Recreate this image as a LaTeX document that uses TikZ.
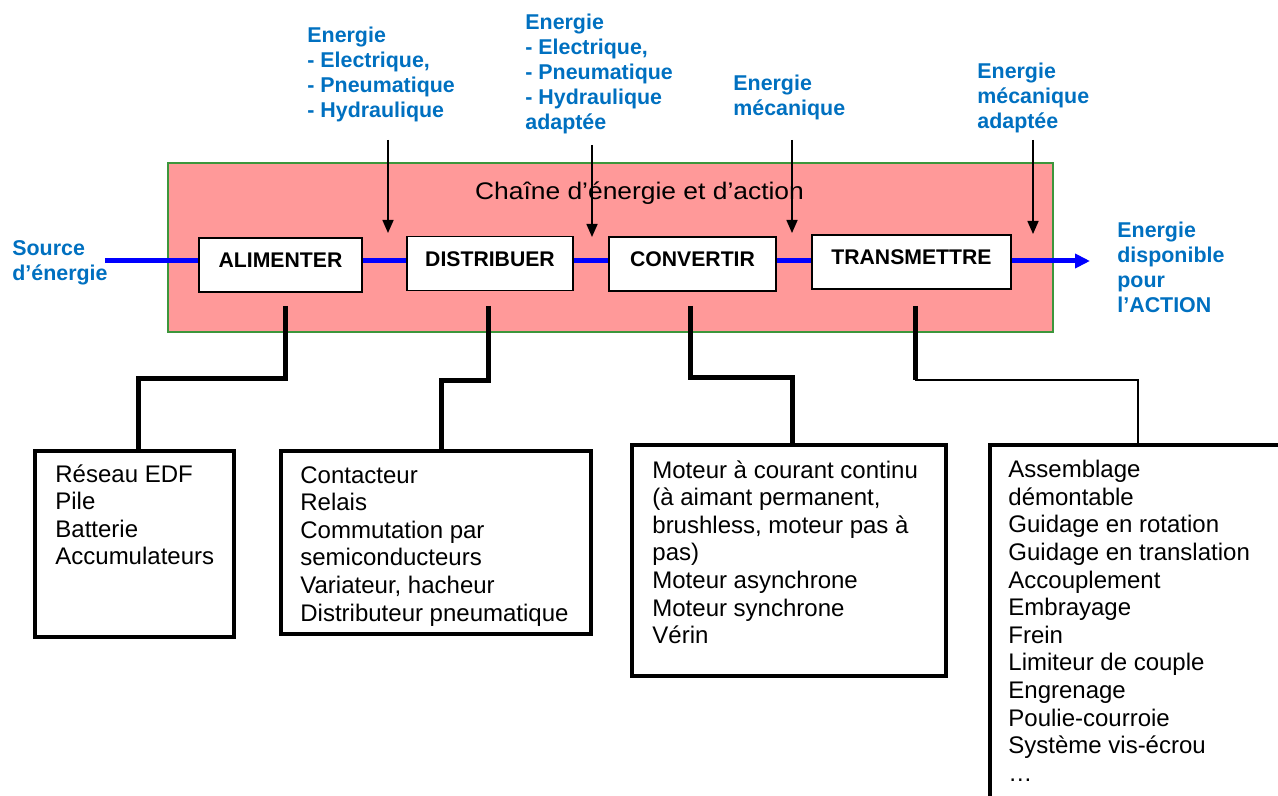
\documentclass[tikz,border=0pt]{standalone}
\usepackage{fontspec}
\setmainfont{Liberation Sans}
\newfontfamily\titlefont{Liberation Sans}[FakeStretch=1.1]
\usetikzlibrary{arrows.meta}
\definecolor{chainpink}{RGB}{255,153,153}
\definecolor{chaingreen}{RGB}{60,150,60}
\definecolor{labelblue}{RGB}{0,112,192}
\tikzset{
  fn box/.style={draw=black, line width=0.8pt, fill=white,
    font=\fontsize{10.6}{12}\selectfont\bfseries,
    minimum height=27pt, inner xsep=0pt, inner ysep=7.2pt,
    text height=7.6pt, text depth=5pt},
  list box/.style={draw=black, line width=2pt, inner sep=0pt},
  list text/.style={anchor=north west, inner sep=0pt, align=left,
    font=\fontsize{12}{13.8}\selectfont},
  blue label/.style={anchor=north west, inner sep=0pt, align=left,
    text=labelblue, font=\fontsize{10.7}{12.5}\selectfont\bfseries},
  energy line/.style={blue, line width=2.5pt},
  feed arrow/.style={-{Triangle[length=6.5pt,width=5.5pt]}, line width=0.8pt},
  link line/.style={line width=2.5pt},
  thin link/.style={line width=1pt}
}

\begin{document}
\begin{tikzpicture}[x=0.5pt, y=-0.5pt, line cap=butt, line join=miter]
  \clip (0,0) rectangle (1278,796);

  % Block of the chain
  \node[draw=chaingreen, fill=chainpink, line width=0.8pt, inner sep=0pt,
    minimum width=442.5pt, minimum height=84.5pt] (chain) at (610.5,247.5) {};
  \node[font=\titlefont\fontsize{12}{14}\selectfont, inner sep=0pt] (title)
    at (639.5,193) {Chaîne d’énergie et d’action};

  % Functions of the chain
  \node[fn box, minimum width=81.5pt] (alim)  at (280.5,265) {ALIMENTER};
  \node[fn box, minimum width=83pt]   (distr) at (490,263.5) {DISTRIBUER};
  \node[fn box, minimum width=83.5pt] (conv)  at (692.5,264) {CONVERTIR};
  \node[fn box, minimum width=99.5pt] (trans) at (911.5,262) {TRANSMETTRE};

  % Energy flow (blue)
  \coordinate (src) at (105,261);
  \coordinate (out) at (1090,261);
  \draw[energy line] (src) -- (src -| alim.west);
  \draw[energy line] (alim.east |- src) -- (distr.west |- src);
  \draw[energy line] (distr.east |- src) -- (conv.west |- src);
  \draw[energy line] (conv.east |- src) -- (trans.west |- src);
  \draw[energy line, -{Triangle[length=7.5pt,width=7pt]}] (trans.east |- src) -- (out);

  % Energy entering between the functions
  \coordinate (in1) at (388,140);  \coordinate (tip1) at (388,233);
  \coordinate (in2) at (592,145);  \coordinate (tip2) at (592,237);
  \coordinate (in3) at (792,140);  \coordinate (tip3) at (792,233);
  \coordinate (in4) at (1033,140); \coordinate (tip4) at (1033,234);
  \draw[feed arrow] (in1) -- (tip1);
  \draw[feed arrow] (in2) -- (tip2);
  \draw[feed arrow] (in3) -- (tip3);
  \draw[feed arrow] (in4) -- (tip4);

  % Blue labels
  \node[blue label] (lab1) at (307,27) {Energie\\- Electrique,\\- Pneumatique\\- Hydraulique};
  \node[blue label] (lab2) at (525,14) {Energie\\- Electrique,\\- Pneumatique\\- Hydraulique\\adaptée};
  \node[blue label] (lab3) at (733,74.5) {Energie\\mécanique};
  \node[blue label] (lab4) at (977,62.5) {Energie\\mécanique\\adaptée};
  \node[blue label] (source) at (12,240.5) {Source\\d’énergie};
  \node[blue label] (action) at (1117,221.5) {Energie\\disponible\\pour\\l’ACTION};

  % Solutions for each function
  \node[list box, minimum width=99.5pt, minimum height=93pt]    (reseau) at (134.5,544) {};
  \node[list box, minimum width=155pt,  minimum height=91.5pt]  (commut) at (436,542.5) {};
  \node[list box, minimum width=157pt,  minimum height=115.5pt] (moteur) at (789,560.5) {};
  \node[list box, minimum width=155pt,  minimum height=187.5pt] (meca)   at (1145,632.5) {};

  \node[list text] (reseau txt) at (55,464) {Réseau EDF\\Pile\\Batterie\\Accumulateurs};
  \node[list text] (commut txt) at (300,466) {Contacteur\\Relais\\Commutation par\\semiconducteurs\\Variateur, hacheur\\Distributeur pneumatique};
  \node[list text] (moteur txt) at (652,460) {Moteur à courant continu\\(à aimant permanent,\\brushless, moteur pas à\\pas)\\Moteur asynchrone\\Moteur synchrone\\Vérin};
  \node[list text] (meca txt) at (1008,460) {Assemblage\\démontable\\Guidage en rotation\\Guidage en translation\\Accouplement\\Embrayage\\Frein\\Limiteur de couple\\Engrenage\\Poulie-courroie\\Système vis-écrou\\…};

  % Links function -> solutions
  \draw[link line] ([shift={(4.5,13)}]alim.south) -- ++(0,73) -| ([xshift=1.75pt]reseau.north);
  \draw[link line] ([shift={(-2,14.5)}]distr.south) -- ++(0,75) -| ([xshift=2.5pt]commut.north);
  \draw[link line] ([shift={(-2.5,14)}]conv.south) -- ++(0,72) -| ([xshift=1.5pt]moteur.north);
  \draw[link line] ([shift={(3.5,16)}]trans.south) -- ++(0,74) coordinate (bend4);
  \draw[thin link] (bend4) -| ([xshift=-3.5pt]meca.north);
\end{tikzpicture}
\end{document}
